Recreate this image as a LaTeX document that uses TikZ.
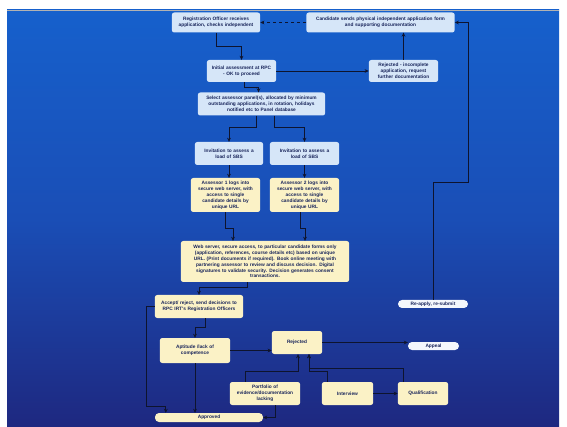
\documentclass[tikz,border=0pt]{standalone}
\usepackage{fontspec}
\usetikzlibrary{arrows.meta,calc}
\newfontfamily\boxfam{Liberation Sans}

\definecolor{bgtop}{RGB}{22,96,204}
\definecolor{bgmid}{RGB}{26,78,182}
\definecolor{bgbot}{RGB}{30,40,128}
\definecolor{paleblue}{RGB}{214,230,248}
\definecolor{cream}{RGB}{251,242,198}
\definecolor{pillwhite}{RGB}{244,247,252}
\definecolor{inknavy}{RGB}{24,36,90}
\definecolor{linkdark}{RGB}{14,20,46}

\tikzset{
  box/.style={rounded corners=2.5pt, align=center, inner sep=1.2pt,
    font=\boxfam\bfseries\fontsize{4.8}{5.9}\selectfont, text=inknavy},
  bluebox/.style={box, fill=paleblue},
  creambox/.style={box, fill=cream},
  pillbox/.style={box, rounded corners=4pt, inner sep=0.5pt},
  link/.style={draw=linkdark, line width=0.65pt, -{Stealth[length=4pt,width=3.8pt]}},
}

\begin{document}
\begin{tikzpicture}[x=1pt,y=-1pt]
  \useasboundingbox (0,0) rectangle (567,427);
  % panel background
  \shade[top color=bgtop, bottom color=bgbot, middle color=bgmid] (7,10) rectangle (559,427);
  \draw[gray!60, line width=0.4pt] (7,10) -- (559,10);

  % registration stage
  \node[bluebox, minimum width=88, minimum height=20, text width=86] (reg) at (216,22.5)
    {Registration Officer receives\\application, checks independent};
  \node[bluebox, minimum width=148, minimum height=20, text width=146] (cand) at (380.5,22.5)
    {Candidate sends physical independent application form\\and supporting documentation};
  \node[bluebox, minimum width=69, minimum height=22, text width=67] (init) at (241.5,71)
    {Initial assessment at RPC\\- OK to proceed};
  \node[bluebox, minimum width=69, minimum height=22, text width=67] (rej1) at (403.5,71)
    {Rejected - incomplete\\application, request\\further documentation};
  \node[bluebox, minimum width=127, minimum height=23, text width=125] (panel) at (261.5,104)
    {Select assessor panel(s), allocated by minimum\\outstanding applications, in rotation, holidays\\notified etc to Panel database};

  % assessors
  \node[bluebox, minimum width=68, minimum height=23, text width=66] (inv1) at (229,153.5)
    {Invitation to assess a\\load of SBS};
  \node[bluebox, minimum width=69, minimum height=23, text width=67] (inv2) at (304.5,153.5)
    {Invitation to assess a\\load of SBS};
  \node[creambox, minimum width=69, minimum height=34, text width=67] (as1) at (225.5,195)
    {Assessor 1 logs into\\secure web server, with\\access to single\\candidate details by\\unique URL};
  \node[creambox, minimum width=69, minimum height=34, text width=67] (as2) at (304.5,195)
    {Assessor 2 logs into\\secure web server, with\\access to single\\candidate details by\\unique URL};
  \node[creambox, minimum width=168, minimum height=41, text width=166] (web) at (265,261.5)
    {Web server, secure access, to particular candidate forms only\\(application, references, course details etc) based on unique\\URL. (Print documents if required). Book online meeting with\\partnering assessor to review and discuss decision. Digital\\signatures to validate security. Decision generates consent\\transactions.};

  % decisions
  \node[creambox, minimum width=88, minimum height=23, text width=86] (dec) at (199,306.5)
    {Accept/ reject, send decisions to\\RPC IRT's Registration Officers};
  \node[pillbox, fill=pillwhite, minimum width=70, minimum height=8, text width=68] (reapp) at (433,304)
    {Re-apply, re-submit};
  \node[creambox, minimum width=70, minimum height=25, text width=68] (apt) at (195,350.5)
    {Aptitude /lack of\\competence};
  \node[creambox, minimum width=50, minimum height=23, text width=48] (rej2) at (297,342.5)
    {Rejected};
  \node[pillbox, fill=pillwhite, minimum width=51, minimum height=8, text width=49] (appeal) at (433.5,346)
    {Appeal};
  \node[creambox, minimum width=70, minimum height=23, text width=68] (port) at (265,393.5)
    {Portfolio of\\evidence/documentation\\lacking};
  \node[creambox, minimum width=51, minimum height=23, text width=49] (intv) at (347.5,393.5)
    {Interview};
  \node[creambox, minimum width=50, minimum height=23, text width=48] (qual) at (423,393.5)
    {Qualification};
  \node[pillbox, fill=cream, minimum width=108, minimum height=9, text width=106] (appr) at (209,417.5)
    {Approved};

  % connectors
  \draw[link, dashed] (cand.west) -- (reg.east);
  \draw[link] (reg.south) -- ++(0,14) -| (init.north);
  \draw[link] (init.east) -- (rej1.west);
  \draw[link] (rej1.north) -- (rej1.north |- cand.south);
  \draw[link] ([xshift=3pt]init.south) -- ++(0,5) -| ([xshift=-3pt]panel.north);
  \draw[link] ([xshift=-5pt]panel.south) -- ++(0,12) -| (inv1.north);
  \draw[link] ([xshift=13pt]panel.south) -- ++(0,12) -| (inv2.north);
  \draw[link] (inv1.south) -- (inv1.south |- as1.north);
  \draw[link] (inv2.south) -- (inv2.south |- as2.north);
  \draw[link] (as1.south) -- ++(0,16) -| ([xshift=-32pt]web.north);
  \draw[link] ([xshift=-4pt]as2.south) -- ++(0,16) -| ([xshift=40pt]web.north);
  \draw[link] ([xshift=-18pt]web.south) -- ++(0,5) -| (dec.north);
  \draw[link] ([xshift=6pt]dec.south) -- ++(0,9) -| (apt.north);
  \coordinate (k1) at (146,406);
  \draw[link] (dec.west) -| (k1) -| ([xshift=11pt]appr.north west);
  \draw[link] (apt.south) -- (apt.south |- appr.north);
  \draw[link] (apt.east) -- (apt.east -| rej2.west);
  \draw[link] ([xshift=-20pt]port.north) -- ++(0,-10) -| ([xshift=1pt]rej2.south);
  \draw[link] ([xshift=-20pt]intv.north) -- ++(0,-10) -| ([xshift=12pt]rej2.south);
  \draw[link] ([xshift=-20pt]qual.north) -- ++(0,-13) -| ([xshift=12pt]rej2.south);
  \draw[link] (intv.east) -- (qual.west);
  \draw[link] (rej2.east) -- (rej2.east -| appeal.west);
  \draw[link] ([xshift=10pt]port.south) |- (appr.east);
  \coordinate (r1) at (468,182);
  \draw[link] (reapp.north) |- (r1) |- (cand.east);
\end{tikzpicture}
\end{document}
